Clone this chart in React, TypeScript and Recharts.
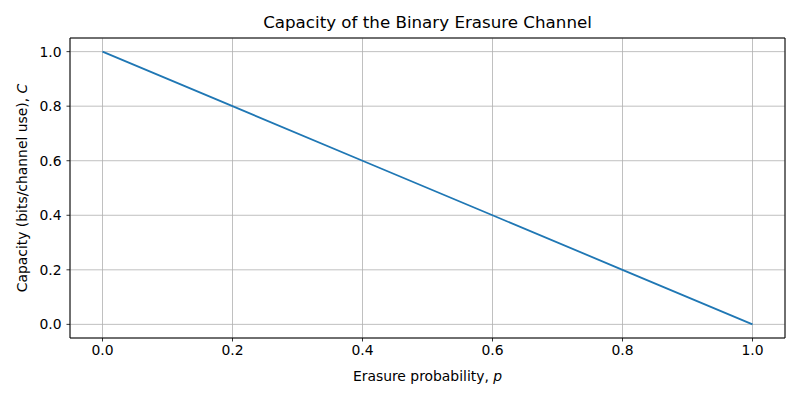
import { LineChart, Line, XAxis, YAxis, CartesianGrid, ReferenceArea, Label } from "recharts"

const erasureProb = [0, 0.2, 0.4, 0.6, 0.8, 1.0]
const capacity = [1.0, 0.8, 0.6, 0.4, 0.2, 0.0]
const tickValues = [0, 0.2, 0.4, 0.6, 0.8, 1.0]

const data = erasureProb.map((p, i) => ({ p, c: capacity[i] }))

const font = "DejaVu Sans, sans-serif"
const tickStyle = { fontSize: 13.9, fill: "#000", fontFamily: font }

export default function App() {
  return (
    <div style={{ position: "absolute", left: 0, top: 0, width: 800, height: 400, background: "#fff", fontFamily: font }}>
      <div
        style={{
          position: "absolute",
          left: 70,
          width: 715,
          top: 12,
          textAlign: "center",
          fontSize: 16.7,
          lineHeight: "20px",
          color: "#000",
        }}
      >
        Capacity of the Binary Erasure Channel
      </div>
      <LineChart width={800} height={400} data={data} margin={{ top: 38, right: 15, bottom: 0, left: 0 }}>
        <CartesianGrid stroke="#b0b0b0" strokeWidth={0.8} />
        <XAxis
          dataKey="p"
          type="number"
          domain={[-0.05, 1.05]}
          ticks={tickValues}
          tickFormatter={(v: number) => v.toFixed(1)}
          height={62}
          tickSize={3.5}
          tickMargin={4}
          tick={tickStyle}
          tickLine={{ stroke: "#000", strokeWidth: 0.8 }}
          axisLine={false}
        >
          <Label
            content={() => (
              <text x={427.5} y={381} textAnchor="middle" fontSize={13.9} fontFamily={font} fill="#000">
                Erasure probability, <tspan fontStyle="italic">p</tspan>
              </text>
            )}
          />
        </XAxis>
        <YAxis
          type="number"
          domain={[-0.05, 1.05]}
          ticks={tickValues}
          tickFormatter={(v: number) => v.toFixed(1)}
          width={70}
          tickSize={3.5}
          tickMargin={5}
          tick={tickStyle}
          tickLine={{ stroke: "#000", strokeWidth: 0.8 }}
          axisLine={false}
        >
          <Label
            content={() => (
              <text
                x={27}
                y={188}
                textAnchor="middle"
                fontSize={13.9}
                fontFamily={font}
                fill="#000"
                transform="rotate(-90 27 188)"
              >
                Capacity (bits/channel use), <tspan fontStyle="italic">C</tspan>
              </text>
            )}
          />
        </YAxis>
        <Line
          type="linear"
          dataKey="c"
          stroke="#1f77b4"
          strokeWidth={1.8}
          dot={false}
          isAnimationActive={false}
        />
        <ReferenceArea
          x1={-0.05}
          x2={1.05}
          y1={-0.05}
          y2={1.05}
          fill="none"
          stroke="#000"
          strokeWidth={1}
          ifOverflow="visible"
        />
      </LineChart>
    </div>
  )
}
